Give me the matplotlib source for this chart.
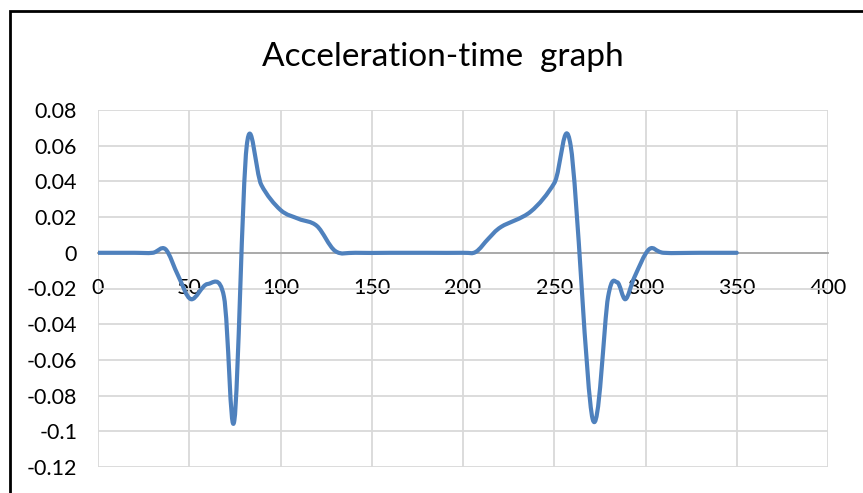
import numpy as np
import matplotlib
matplotlib.use("Agg")
import matplotlib.pyplot as plt
from matplotlib.path import Path
from matplotlib.patches import PathPatch, Rectangle

# ---- data ----
time = [0, 10, 20, 30, 37, 44, 51, 60, 69, 74.7, 81.5, 89.5, 100, 110, 120, 130, 141,
        160, 180, 200, 207, 214, 221, 237, 250, 259, 271, 279.5, 284.5, 289, 294,
        302, 310, 330, 350]
accel = [0, 0, 0, 0, 0.002, -0.013, -0.026, -0.0175, -0.0245, -0.094, 0.060, 0.038,
         0.024, 0.019, 0.015, 0.001, 0, 0, 0, 0, 0.0005, 0.008, 0.0146, 0.023, 0.039,
         0.060, -0.093, -0.0247, -0.0165, -0.026, -0.0135, 0.002, 0, 0, 0]

x_ticks = [0, 50, 100, 150, 200, 250, 300, 350, 400]
y_ticks = [0.08, 0.06, 0.04, 0.02, 0, -0.02, -0.04, -0.06, -0.08, -0.1, -0.12]
y_labels = ["0.08", "0.06", "0.04", "0.02", "0", "-0.02", "-0.04", "-0.06",
            "-0.08", "-0.1", "-0.12"]
title = "Acceleration-time  graph"

plt.rcParams['font.family'] = ['Lato', 'DejaVu Sans']

W, H = 863, 493
fig = plt.figure(figsize=(W / 100, H / 100), dpi=100)
fig.patch.set_facecolor("white")

# outer chart border (cut off at right/bottom in the reference)
fig.patches.append(Rectangle((10 / W, -0.1), 1.2, 1 - 11 / H + 0.1,
                             transform=fig.transFigure, fill=False,
                             edgecolor="black", linewidth=2.0, zorder=0))

ax = fig.add_axes([98 / W, 1 - 467 / H, (828 - 98) / W, (467 - 110) / H])
ax.set_xlim(0, 400)
ax.set_ylim(-0.12, 0.08)
ax.set_xticks(x_ticks)
ax.set_xticklabels([str(v) for v in x_ticks])
ax.set_yticks(y_ticks)
ax.set_yticklabels(y_labels)
ax.grid(True, color="#d9d9d9", linewidth=1.3)
ax.set_axisbelow(True)
for s in ["left", "right", "top"]:
    ax.spines[s].set_visible(False)
ax.spines["bottom"].set_position(("data", 0))
ax.spines["bottom"].set_color("#a6a6a6")
ax.spines["bottom"].set_linewidth(1.3)
ax.tick_params(axis="x", length=0, pad=18, labelsize=15.5, colors="black")
ax.tick_params(axis="y", length=0, pad=15, labelsize=15.5, colors="black")

# smoothed line (Excel-style Catmull-Rom Bezier through the data points)
xs = np.asarray(time, float)
ys = np.asarray(accel, float)
n = len(xs)
verts = [(xs[0], ys[0])]
codes = [Path.MOVETO]
for i in range(n - 1):
    p0 = np.array([xs[max(i - 1, 0)], ys[max(i - 1, 0)]])
    p1 = np.array([xs[i], ys[i]])
    p2 = np.array([xs[i + 1], ys[i + 1]])
    p3 = np.array([xs[min(i + 2, n - 1)], ys[min(i + 2, n - 1)]])
    c1 = p1 + (p2 - p0) / 6.0
    c2 = p2 - (p3 - p1) / 6.0
    verts += [tuple(c1), tuple(c2), tuple(p2)]
    codes += [Path.CURVE4] * 3
path = Path(verts, codes)
ax.add_patch(PathPatch(path, facecolor="none", edgecolor="#4f81bd",
                       linewidth=3.0, capstyle="round", joinstyle="round",
                       zorder=3))

fig.text(443 / W, 1 - 57 / H, title, ha="center", va="center", fontsize=24,
         color="black")

fig.savefig("out.png", dpi=100)
